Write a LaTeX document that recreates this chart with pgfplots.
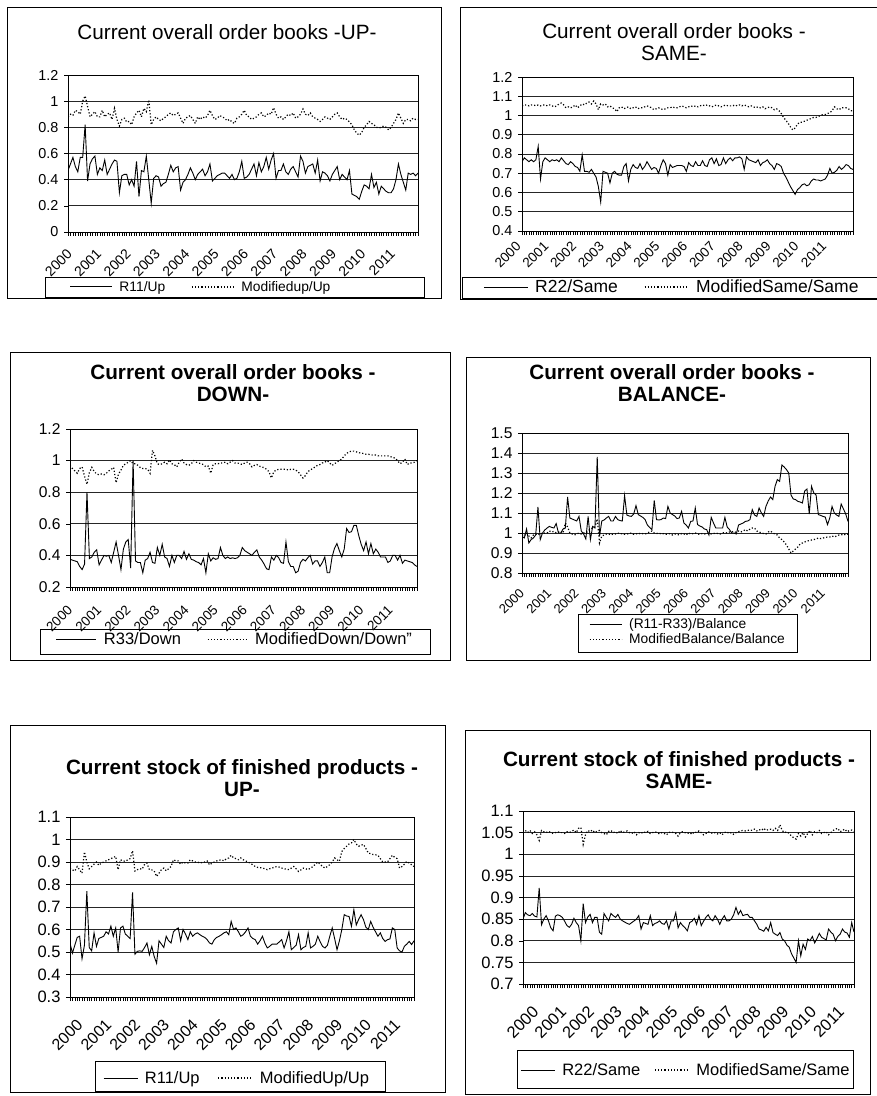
\documentclass[border=0pt]{standalone}
\usepackage{fontspec}
\setmainfont{Liberation Sans}
\usepackage{pgfplots}
\usepackage{pgfplotstable}
\pgfplotsset{compat=1.18}

\newcommand\ftitle{\fontsize{20.7bp}{22bp}\selectfont}
\newcommand\fticka{\fontsize{14.4bp}{16bp}\selectfont}
\newcommand\ftickb{\fontsize{15.6bp}{17bp}\selectfont}
\newcommand\ftickc{\fontsize{16.5bp}{18bp}\selectfont}
\newcommand\fleg{\fontsize{13.8bp}{16bp}\selectfont}
\newcommand\flegb{\fontsize{16.5bp}{18bp}\selectfont}
\newcommand\flegbb{\fontsize{17.5bp}{19bp}\selectfont}
\newcommand\flegc{\fontsize{16.5bp}{18bp}\selectfont}
\newcommand\fyr[1]{\fontsize{#1}{#1}\selectfont}

\pgfplotstableread[row sep=\\]{
m a b\\
0 0.47 0.88\\1 0.52 0.90\\2 0.57 0.89\\3 0.50 0.93\\4 0.46 0.92\\5 0.57 0.90\\6 0.57 1.00\\7 0.82 1.04\\8 0.39 0.96\\9 0.52 0.88\\
10 0.56 0.90\\11 0.58 0.92\\12 0.44 0.88\\13 0.49 0.88\\14 0.47 0.93\\15 0.55 0.88\\16 0.44 0.90\\17 0.48 0.91\\18 0.52 0.86\\19 0.55 0.945\\
20 0.54 0.86\\21 0.30 0.81\\22 0.43 0.86\\23 0.44 0.87\\24 0.44 0.84\\25 0.36 0.845\\26 0.40 0.82\\27 0.35 0.88\\28 0.54 0.91\\29 0.27 0.93\\
30 0.47 0.88\\31 0.46 0.945\\32 0.58 0.92\\33 0.40 1.01\\34 0.22 0.82\\35 0.41 0.86\\36 0.43 0.88\\37 0.42 0.86\\38 0.35 0.85\\39 0.37 0.87\\
40 0.38 0.88\\41 0.44 0.90\\42 0.51 0.91\\43 0.46 0.89\\44 0.49 0.90\\45 0.50 0.91\\46 0.32 0.87\\47 0.38 0.83\\48 0.40 0.87\\49 0.44 0.88\\
50 0.49 0.89\\51 0.45 0.86\\52 0.40 0.83\\53 0.44 0.88\\54 0.46 0.86\\55 0.48 0.88\\56 0.43 0.87\\57 0.46 0.89\\58 0.52 0.93\\59 0.39 0.89\\
60 0.41 0.86\\61 0.43 0.87\\62 0.44 0.89\\63 0.45 0.88\\64 0.45 0.87\\65 0.43 0.85\\66 0.41 0.86\\67 0.44 0.84\\68 0.40 0.83\\69 0.41 0.87\\
70 0.46 0.88\\71 0.54 0.90\\72 0.41 0.93\\73 0.42 0.89\\74 0.44 0.88\\75 0.48 0.86\\76 0.52 0.87\\77 0.43 0.88\\78 0.53 0.90\\79 0.46 0.91\\
80 0.50 0.88\\81 0.57 0.89\\82 0.48 0.91\\83 0.55 0.90\\84 0.60 0.95\\85 0.41 0.90\\86 0.47 0.87\\87 0.47 0.88\\88 0.52 0.86\\89 0.46 0.88\\
90 0.44 0.90\\91 0.48 0.89\\92 0.50 0.91\\93 0.46 0.87\\94 0.42 0.88\\95 0.58 0.90\\96 0.54 0.94\\97 0.45 0.90\\98 0.50 0.89\\99 0.51 0.91\\
100 0.52 0.88\\101 0.45 0.87\\102 0.55 0.86\\103 0.39 0.845\\104 0.46 0.86\\105 0.45 0.88\\106 0.43 0.87\\107 0.39 0.86\\108 0.44 0.88\\109 0.47 0.90\\
110 0.50 0.91\\111 0.40 0.88\\112 0.44 0.86\\113 0.42 0.87\\114 0.40 0.86\\115 0.47 0.84\\116 0.29 0.82\\117 0.28 0.78\\118 0.27 0.755\\119 0.25 0.74\\
120 0.31 0.76\\121 0.36 0.80\\122 0.35 0.82\\123 0.33 0.845\\124 0.44 0.83\\125 0.34 0.82\\126 0.38 0.80\\127 0.29 0.795\\128 0.35 0.80\\129 0.33 0.81\\
130 0.31 0.80\\131 0.30 0.78\\132 0.30 0.80\\133 0.33 0.83\\134 0.40 0.86\\135 0.52 0.91\\136 0.44 0.87\\137 0.38 0.83\\138 0.32 0.86\\139 0.45 0.86\\
140 0.44 0.85\\141 0.45 0.87\\142 0.43 0.86\\143 0.45 0.86\\
}\tA

\pgfplotstableread[row sep=\\]{
m a b\\
0 0.76 1.05\\1 0.78 1.055\\2 0.77 1.055\\3 0.76 1.05\\4 0.77 1.055\\5 0.76 1.055\\6 0.77 1.05\\7 0.84 1.055\\8 0.67 1.05\\9 0.76 1.055\\
10 0.78 1.055\\11 0.77 1.05\\12 0.76 1.055\\13 0.77 1.05\\14 0.765 1.045\\15 0.77 1.05\\16 0.76 1.06\\17 0.78 1.065\\18 0.765 1.055\\19 0.75 1.04\\
20 0.745 1.045\\21 0.76 1.04\\22 0.75 1.045\\23 0.735 1.055\\24 0.73 1.04\\25 0.71 1.05\\26 0.795 1.06\\27 0.71 1.055\\28 0.71 1.065\\29 0.705 1.07\\
30 0.72 1.06\\31 0.70 1.075\\32 0.68 1.06\\33 0.63 1.03\\34 0.55 1.06\\35 0.71 1.055\\36 0.705 1.06\\37 0.70 1.045\\38 0.65 1.05\\39 0.70 1.04\\
40 0.71 1.035\\41 0.695 1.02\\42 0.69 1.04\\43 0.69 1.045\\44 0.735 1.035\\45 0.75 1.04\\46 0.66 1.045\\47 0.72 1.035\\48 0.745 1.04\\49 0.73 1.045\\
50 0.725 1.035\\51 0.75 1.04\\52 0.72 1.04\\53 0.735 1.045\\54 0.76 1.05\\55 0.74 1.045\\56 0.72 1.04\\57 0.73 1.03\\58 0.725 1.035\\59 0.70 1.04\\
60 0.74 1.035\\61 0.77 1.03\\62 0.75 1.035\\63 0.69 1.04\\64 0.745 1.04\\65 0.73 1.045\\66 0.735 1.04\\67 0.74 1.04\\68 0.74 1.045\\69 0.74 1.05\\
70 0.735 1.045\\71 0.71 1.04\\72 0.755 1.045\\73 0.74 1.05\\74 0.735 1.045\\75 0.76 1.05\\76 0.74 1.045\\77 0.74 1.05\\78 0.765 1.055\\79 0.74 1.05\\
80 0.735 1.055\\81 0.77 1.05\\82 0.78 1.045\\83 0.75 1.05\\84 0.775 1.055\\85 0.74 1.05\\86 0.745 1.045\\87 0.78 1.05\\88 0.75 1.055\\89 0.77 1.05\\
90 0.78 1.05\\91 0.765 1.05\\92 0.78 1.055\\93 0.78 1.05\\94 0.785 1.055\\95 0.775 1.05\\96 0.72 1.055\\97 0.785 1.05\\98 0.77 1.045\\99 0.765 1.05\\
100 0.76 1.045\\101 0.755 1.04\\102 0.77 1.045\\103 0.74 1.04\\104 0.755 1.045\\105 0.76 1.035\\106 0.77 1.04\\107 0.75 1.045\\108 0.74 1.04\\109 0.72 1.03\\
110 0.75 1.035\\111 0.745 1.025\\112 0.735 1.01\\113 0.70 0.99\\114 0.68 0.975\\115 0.655 0.96\\116 0.63 0.94\\117 0.61 0.925\\118 0.59 0.935\\119 0.615 0.955\\
120 0.625 0.965\\121 0.64 0.965\\122 0.645 0.97\\123 0.635 0.975\\124 0.64 0.98\\125 0.66 0.985\\126 0.67 0.99\\127 0.665 0.99\\128 0.665 0.995\\129 0.66 1.0\\
130 0.665 1.005\\131 0.67 1.005\\132 0.69 1.01\\133 0.725 1.015\\134 0.70 1.025\\135 0.705 1.045\\136 0.715 1.035\\137 0.735 1.03\\138 0.72 1.04\\139 0.73 1.04\\
140 0.745 1.04\\141 0.74 1.035\\142 0.725 1.025\\143 0.72 1.025\\
}\tB

\pgfplotstableread[row sep=\\]{
m a b\\
0 0.376 0.97\\1 0.37 0.95\\2 0.365 0.935\\3 0.36 0.92\\4 0.33 0.95\\5 0.31 0.96\\6 0.345 0.90\\7 0.80 0.85\\8 0.38 0.925\\9 0.39 0.957\\
10 0.42 0.93\\11 0.435 0.915\\12 0.34 0.91\\13 0.37 0.915\\14 0.40 0.91\\15 0.395 0.92\\16 0.40 0.935\\17 0.355 0.945\\18 0.42 0.957\\19 0.485 0.86\\
20 0.40 0.915\\21 0.31 0.94\\22 0.44 0.97\\23 0.485 0.98\\24 0.50 0.99\\25 0.32 1.00\\26 1.00 0.98\\27 0.365 0.98\\28 0.355 0.97\\29 0.355 0.955\\
30 0.29 0.95\\31 0.37 0.95\\32 0.38 0.945\\33 0.42 0.92\\34 0.355 1.065\\35 0.35 1.03\\36 0.45 0.98\\37 0.40 0.975\\38 0.47 0.98\\39 0.39 0.99\\
40 0.38 0.98\\41 0.33 1.004\\42 0.40 0.98\\43 0.355 0.975\\44 0.40 0.96\\45 0.40 0.99\\46 0.38 1.01\\47 0.425 0.985\\48 0.375 0.975\\49 0.41 0.97\\
50 0.375 0.98\\51 0.37 1.00\\52 0.36 0.99\\53 0.355 0.985\\54 0.34 0.98\\55 0.38 0.975\\56 0.29 0.96\\57 0.41 0.965\\58 0.365 0.92\\59 0.385 0.975\\
60 0.375 0.98\\61 0.38 0.98\\62 0.45 0.985\\63 0.40 0.985\\64 0.38 0.99\\65 0.39 0.98\\66 0.38 0.99\\67 0.385 1.00\\68 0.38 0.985\\69 0.385 0.985\\
70 0.40 0.98\\71 0.45 0.975\\72 0.43 0.985\\73 0.42 0.99\\74 0.41 0.98\\75 0.40 0.96\\76 0.42 0.97\\77 0.435 0.975\\78 0.39 0.965\\79 0.37 0.96\\
80 0.345 0.955\\81 0.315 0.945\\82 0.31 0.93\\83 0.39 0.89\\84 0.37 0.93\\85 0.40 0.94\\86 0.385 0.945\\87 0.355 0.945\\88 0.35 0.945\\89 0.485 0.945\\
90 0.36 0.94\\91 0.33 0.945\\92 0.33 0.945\\93 0.29 0.94\\94 0.30 0.93\\95 0.355 0.91\\96 0.375 0.89\\97 0.365 0.905\\98 0.385 0.93\\99 0.40 0.94\\
100 0.345 0.95\\101 0.365 0.96\\102 0.365 0.97\\103 0.33 0.975\\104 0.355 0.985\\105 0.39 0.99\\106 0.29 1.00\\107 0.29 0.985\\108 0.39 0.97\\109 0.445 0.98\\
110 0.475 0.99\\111 0.43 1.00\\112 0.39 1.01\\113 0.44 1.03\\114 0.57 1.045\\115 0.545 1.055\\116 0.55 1.06\\117 0.59 1.06\\118 0.59 1.055\\119 0.525 1.05\\
120 0.47 1.047\\121 0.43 1.045\\122 0.485 1.04\\123 0.41 1.04\\124 0.475 1.035\\125 0.41 1.035\\126 0.44 1.035\\127 0.42 1.03\\128 0.39 1.03\\129 0.39 1.03\\
130 0.39 1.03\\131 0.355 1.03\\132 0.365 1.025\\133 0.40 1.02\\134 0.40 1.015\\135 0.37 1.00\\136 0.40 0.98\\137 0.35 0.99\\138 0.37 1.01\\139 0.365 0.975\\
140 0.36 0.985\\141 0.355 0.985\\142 0.34 0.99\\143 0.33 1.00\\
}\tC

\pgfplotstableread[row sep=\\]{
m a b\\
0 0.983 0.99\\1 0.975 0.985\\2 1.02 1.0\\3 0.95 0.985\\4 0.967 0.975\\5 0.975 0.99\\6 0.99 0.995\\7 1.13 0.99\\8 0.967 1.0\\9 1.0 0.995\\
10 1.015 1.0\\11 1.025 1.0\\12 1.033 1.01\\13 1.028 1.005\\14 1.025 1.008\\15 1.047 1.0\\16 1.0 1.005\\17 1.0 1.008\\18 1.02 1.0\\19 1.025 1.05\\
20 1.18 1.03\\21 1.075 1.0\\22 1.07 0.995\\23 1.065 0.99\\24 1.06 0.995\\25 1.083 1.0\\26 1.01 0.995\\27 0.995 1.0\\28 0.97 1.0\\29 1.083 1.01\\
30 0.967 1.02\\31 1.033 1.025\\32 1.025 1.03\\33 1.38 1.07\\34 0.983 0.95\\35 1.06 0.985\\36 1.065 0.99\\37 1.075 0.995\\38 1.083 0.995\\39 1.06 0.99\\
40 1.06 0.995\\41 1.083 0.995\\42 1.067 1.0\\43 1.062 0.995\\44 1.06 0.997\\45 1.187 0.993\\46 1.09 0.995\\47 1.085 0.997\\48 1.083 1.0\\49 1.095 0.993\\
50 1.137 0.995\\51 1.092 1.0\\52 1.085 0.995\\53 1.078 0.997\\54 1.067 0.995\\55 1.04 1.0\\56 1.028 1.005\\57 1.017 1.01\\58 1.163 1.0\\59 1.067 0.997\\
60 1.065 1.0\\61 1.067 0.995\\62 1.075 0.997\\63 1.072 0.993\\64 1.133 0.995\\65 1.10 0.997\\66 1.092 0.99\\67 1.085 0.995\\68 1.072 0.993\\69 1.075 0.99\\
70 1.108 0.997\\71 1.05 0.995\\72 1.04 0.99\\73 1.025 1.0\\74 1.058 0.995\\75 1.06 0.997\\76 1.125 1.0\\77 1.042 0.995\\78 1.035 0.993\\79 1.03 0.997\\
80 1.02 0.995\\81 1.017 0.997\\82 0.99 1.0\\83 1.078 0.995\\84 1.05 0.997\\85 1.025 1.0\\86 1.025 0.997\\87 1.025 0.995\\88 1.025 1.0\\89 1.078 1.003\\
90 1.03 1.0\\91 1.017 1.005\\92 1.0 1.008\\93 1.0 1.003\\94 0.995 1.005\\95 1.04 1.01\\96 1.045 1.005\\97 1.05 1.01\\98 1.058 1.017\\99 1.06 1.01\\
100 1.067 1.02\\101 1.117 1.025\\102 1.09 1.025\\103 1.083 1.01\\104 1.125 1.005\\105 1.10 1.0\\106 1.083 0.997\\107 1.133 0.995\\108 1.16 1.005\\109 1.18 1.01\\
110 1.167 1.0\\111 1.233 0.995\\112 1.267 0.99\\113 1.258 0.975\\114 1.34 0.967\\115 1.33 0.955\\116 1.317 0.94\\117 1.30 0.92\\118 1.19 0.90\\119 1.17 0.91\\
120 1.167 0.92\\121 1.158 0.93\\122 1.155 0.945\\123 1.15 0.95\\124 1.21 0.955\\125 1.22 0.96\\126 1.095 0.962\\127 1.233 0.965\\128 1.20 0.967\\129 1.19 0.97\\
130 1.092 0.975\\131 1.088 0.972\\132 1.083 0.975\\133 1.08 0.977\\134 1.042 0.98\\135 1.075 0.98\\136 1.133 0.985\\137 1.10 0.98\\138 1.09 0.985\\139 1.083 0.99\\
140 1.145 0.99\\141 1.12 0.995\\142 1.095 0.99\\143 1.058 0.995\\
}\tD

\pgfplotstableread[row sep=\\]{
m a b\\
0 0.54 0.873\\1 0.495 0.865\\2 0.53 0.86\\3 0.565 0.88\\4 0.57 0.865\\5 0.47 0.85\\6 0.53 0.945\\7 0.77 0.90\\8 0.52 0.87\\9 0.505 0.88\\
10 0.585 0.89\\11 0.525 0.90\\12 0.56 0.885\\13 0.565 0.895\\14 0.57 0.90\\15 0.59 0.905\\16 0.58 0.91\\17 0.615 0.915\\18 0.57 0.92\\19 0.607 0.925\\
20 0.50 0.866\\21 0.607 0.91\\22 0.615 0.905\\23 0.58 0.903\\24 0.57 0.91\\25 0.56 0.915\\26 0.765 0.95\\27 0.49 0.86\\28 0.503 0.866\\29 0.505 0.87\\
30 0.503 0.868\\31 0.52 0.89\\32 0.54 0.895\\33 0.488 0.866\\34 0.525 0.865\\35 0.48 0.86\\36 0.45 0.836\\37 0.55 0.85\\38 0.535 0.866\\39 0.52 0.873\\
40 0.57 0.861\\41 0.55 0.87\\42 0.54 0.88\\43 0.59 0.91\\44 0.60 0.905\\45 0.607 0.905\\46 0.55 0.89\\47 0.60 0.90\\48 0.58 0.895\\49 0.555 0.895\\
50 0.59 0.91\\51 0.57 0.905\\52 0.58 0.90\\53 0.585 0.90\\54 0.577 0.895\\55 0.57 0.898\\56 0.565 0.90\\57 0.555 0.905\\58 0.54 0.887\\59 0.535 0.895\\
60 0.555 0.90\\61 0.565 0.905\\62 0.57 0.908\\63 0.577 0.91\\64 0.585 0.905\\65 0.59 0.915\\66 0.577 0.918\\67 0.636 0.93\\68 0.60 0.918\\69 0.607 0.915\\
70 0.59 0.91\\71 0.57 0.918\\72 0.577 0.91\\73 0.59 0.905\\74 0.607 0.90\\75 0.57 0.895\\76 0.56 0.887\\77 0.555 0.88\\78 0.535 0.876\\79 0.55 0.875\\
80 0.57 0.873\\81 0.54 0.87\\82 0.518 0.866\\83 0.525 0.87\\84 0.535 0.873\\85 0.535 0.877\\86 0.535 0.88\\87 0.545 0.877\\88 0.555 0.873\\89 0.518 0.87\\
90 0.55 0.868\\91 0.59 0.866\\92 0.51 0.873\\93 0.52 0.88\\94 0.53 0.87\\95 0.577 0.858\\96 0.51 0.865\\97 0.52 0.873\\98 0.525 0.87\\99 0.585 0.866\\
100 0.518 0.873\\101 0.525 0.88\\102 0.535 0.89\\103 0.57 0.90\\104 0.545 0.89\\105 0.525 0.88\\106 0.518 0.873\\107 0.53 0.88\\108 0.57 0.888\\109 0.607 0.90\\
110 0.56 0.918\\111 0.51 0.91\\112 0.55 0.903\\113 0.60 0.947\\114 0.666 0.96\\115 0.66 0.97\\116 0.658 0.98\\117 0.614 0.985\\118 0.688 1.0\\119 0.62 0.98\\
120 0.645 0.97\\121 0.666 0.975\\122 0.644 0.978\\123 0.61 0.96\\124 0.60 0.94\\125 0.636 0.937\\126 0.61 0.933\\127 0.59 0.932\\128 0.57 0.93\\129 0.585 0.915\\
130 0.56 0.90\\131 0.547 0.90\\132 0.555 0.90\\133 0.558 0.915\\134 0.607 0.93\\135 0.60 0.92\\136 0.518 0.915\\137 0.505 0.873\\138 0.50 0.88\\139 0.525 0.89\\
140 0.535 0.903\\141 0.547 0.895\\142 0.533 0.888\\143 0.55 0.88\\
}\tE

\pgfplotstableread[row sep=\\]{
m a b\\
0 0.85 1.05\\1 0.865 1.055\\2 0.86 1.05\\3 0.858 1.055\\4 0.863 1.048\\5 0.857 1.052\\6 0.855 1.045\\7 0.922 1.032\\8 0.837 1.055\\9 0.85 1.052\\
10 0.858 1.05\\11 0.846 1.053\\12 0.83 1.05\\13 0.823 1.048\\14 0.857 1.05\\15 0.86 1.052\\16 0.858 1.05\\17 0.854 1.05\\18 0.845 1.048\\19 0.835 1.052\\
20 0.831 1.05\\21 0.838 1.053\\22 0.852 1.056\\23 0.842 1.05\\24 0.835 1.06\\25 0.80 1.062\\26 0.886 1.023\\27 0.842 1.045\\28 0.855 1.055\\29 0.861 1.052\\
30 0.842 1.056\\31 0.854 1.05\\32 0.854 1.053\\33 0.82 1.055\\34 0.815 1.05\\35 0.863 1.048\\36 0.854 1.045\\37 0.846 1.053\\38 0.863 1.055\\39 0.858 1.05\\
40 0.854 1.052\\41 0.861 1.048\\42 0.85 1.055\\43 0.846 1.05\\44 0.843 1.052\\45 0.84 1.054\\46 0.838 1.05\\47 0.842 1.048\\48 0.846 1.052\\49 0.85 1.045\\
50 0.858 1.05\\51 0.827 1.048\\52 0.842 1.052\\53 0.84 1.05\\54 0.838 1.053\\55 0.858 1.048\\56 0.835 1.05\\57 0.84 1.052\\58 0.842 1.05\\59 0.846 1.047\\
60 0.84 1.05\\61 0.838 1.048\\62 0.846 1.045\\63 0.827 1.05\\64 0.846 1.052\\65 0.846 1.05\\66 0.865 1.048\\67 0.83 1.042\\68 0.842 1.05\\69 0.835 1.052\\
70 0.83 1.05\\71 0.823 1.048\\72 0.842 1.05\\73 0.845 1.046\\74 0.852 1.052\\75 0.838 1.05\\76 0.858 1.054\\77 0.835 1.05\\78 0.845 1.045\\79 0.854 1.048\\
80 0.86 1.052\\81 0.85 1.05\\82 0.846 1.048\\83 0.858 1.05\\84 0.85 1.047\\85 0.838 1.05\\86 0.85 1.045\\87 0.858 1.05\\88 0.846 1.052\\89 0.846 1.048\\
90 0.85 1.05\\91 0.86 1.046\\92 0.877 1.05\\93 0.861 1.052\\94 0.87 1.054\\95 0.858 1.055\\96 0.86 1.054\\97 0.861 1.055\\98 0.854 1.056\\99 0.854 1.055\\
100 0.846 1.058\\101 0.838 1.054\\102 0.827 1.057\\103 0.825 1.055\\104 0.822 1.06\\105 0.831 1.055\\106 0.823 1.057\\107 0.842 1.058\\108 0.819 1.055\\109 0.815 1.06\\
110 0.812 1.055\\111 0.819 1.068\\112 0.804 1.055\\113 0.80 1.05\\114 0.79 1.052\\115 0.785 1.048\\116 0.77 1.042\\117 0.76 1.038\\118 0.75 1.035\\119 0.80 1.048\\
120 0.765 1.042\\121 0.792 1.05\\122 0.78 1.04\\123 0.804 1.048\\124 0.80 1.055\\125 0.81 1.045\\126 0.795 1.052\\127 0.805 1.05\\128 0.817 1.055\\129 0.808 1.048\\
130 0.805 1.05\\131 0.802 1.052\\132 0.827 1.045\\133 0.82 1.05\\134 0.815 1.055\\135 0.80 1.058\\136 0.81 1.06\\137 0.815 1.052\\138 0.827 1.055\\139 0.82 1.058\\
140 0.818 1.052\\141 0.808 1.055\\142 0.842 1.056\\143 0.82 1.053\\
}\tF

\pgfplotsset{
  panel/.style={
    scale only axis,
    xmin=0, xmax=143,
    xtick={0,12,24,36,48,60,72,84,96,108,120,132},
    xticklabels={2000,2001,2002,2003,2004,2005,2006,2007,2008,2009,2010,2011},
    minor xtick={0,1,...,143},
    xtick pos=left, ytick pos=left,
    tick align=outside,
    major tick length=4bp, minor tick length=4bp,
    tick style={black, line width=0.5bp},
    axis line style={black, line width=0.8bp},
    ymajorgrids,
    grid style={black!85, line width=0.7bp},
    /pgf/number format/assume math mode=true,
    yticklabel style={/pgf/number format/fixed, /pgf/number format/precision=2, xshift=-2bp},
    xticklabel style={rotate=45, anchor=north east, inner sep=1bp},
    legend columns=2,
    legend style={draw=none, fill=none, anchor=center, inner sep=1bp,
      /tikz/every odd column/.append style={column sep=5bp},
      /tikz/every even column/.append style={column sep=24bp}},
    legend image code/.code={\draw[##1] (0bp,0bp) -- (38bp,0bp);},
  },
  ser1/.style={black, line width=0.9bp},
  ser2/.style={black, line width=1.2bp, dash pattern=on 1.2bp off 2bp},
}

\begin{document}
\begin{tikzpicture}
\useasboundingbox (0,0) rectangle (877bp,1096bp);

% Panel 1
\begin{axis}[panel, at={(68bp,864bp)}, anchor=south west, width=350bp, height=157bp,
  ymin=0, ymax=1.2, ytick={0,0.2,0.4,0.6,0.8,1,1.2},
  tick label style={font=\fticka},
  xticklabel style={font=\fyr{14bp}, xshift=-9bp, yshift=-6bp},
  legend style={at={(0.38,-0.35)}, font=\fleg},
  legend image code/.code={\draw[#1] (0bp,0bp) -- (42bp,0bp);}]
\addplot[ser1] table[x=m,y=a]{\tA};
\addlegendentry{R11/Up}
\addplot[ser2] table[x=m,y=b]{\tA};
\addlegendentry{Modifiedup/Up}
\end{axis}

% Panel 2
\begin{axis}[panel, at={(522bp,865bp)}, anchor=south west, width=331bp, height=154bp,
  ymin=0.4, ymax=1.2, ytick={0.4,0.5,0.6,0.7,0.8,0.9,1,1.1,1.2},
  tick label style={font=\fticka},
  xticklabel style={font=\fyr{13.5bp}, xshift=-8bp, yshift=2bp},
  legend style={at={(0.453,-0.364)}, font=\flegbb},
  legend image code/.code={\draw[#1] (0bp,0bp) -- (44bp,0bp);}]
\addplot[ser1] table[x=m,y=a]{\tB};
\addlegendentry{R22/Same}
\addplot[ser2] table[x=m,y=b]{\tB};
\addlegendentry{ModifiedSame/Same}
\end{axis}

% Panel 3
\begin{axis}[panel, at={(70bp,509bp)}, anchor=south west, width=347bp, height=158bp,
  ymin=0.2, ymax=1.2, ytick={0.2,0.4,0.6,0.8,1,1.2},
  tick label style={font=\ftickb},
  xticklabel style={font=\fyr{13.5bp}, xshift=-11bp, yshift=-6bp},
  legend style={at={(0.4755,-0.33)}, font=\flegb},
  legend image code/.code={\draw[#1] (0bp,0bp) -- (40bp,0bp);}]
\addplot[ser1] table[x=m,y=a]{\tC};
\addlegendentry{R33/Down}
\addplot[ser2] table[x=m,y=b]{\tC};
\addlegendentry{ModifiedDown/Down"}
\end{axis}

% Panel 4
\begin{axis}[panel, at={(522bp,523bp)}, anchor=south west, width=326bp, height=140bp,
  ymin=0.8, ymax=1.5, ytick={0.8,0.9,1,1.1,1.2,1.3,1.4,1.5},
  tick label style={font=\ftickb},
  xticklabel style={font=\fyr{13bp}, xshift=-9bp, yshift=-4bp},
  legend columns=1,
  legend style={at={(0.509,-0.42)}, font=\fleg, legend cell align=left, inner sep=1bp},
  legend image code/.code={\draw[#1] (0bp,0bp) -- (32bp,0bp);}]
\addplot[ser1] table[x=m,y=a]{\tD};
\addlegendentry{(R11-R33)/Balance}
\addplot[ser2] table[x=m,y=b]{\tD};
\addlegendentry{ModifiedBalance/Balance}
\end{axis}

% Panel 5
\begin{axis}[panel, at={(70bp,99bp)}, anchor=south west, width=344bp, height=180bp,
  ymin=0.3, ymax=1.1, ytick={0.3,0.4,0.5,0.6,0.7,0.8,0.9,1,1.1},
  tick label style={font=\ftickc},
  xticklabel style={font=\fyr{16bp}, xshift=-7bp, yshift=-15bp},
  legend style={at={(0.4855,-0.45)}, font=\flegc, /tikz/every even column/.append style={column sep=16bp}},
  legend image code/.code={\draw[#1] (0bp,0bp) -- (34bp,0bp);}]
\addplot[ser1] table[x=m,y=a]{\tE};
\addlegendentry{R11/Up}
\addplot[ser2] table[x=m,y=b]{\tE};
\addlegendentry{ModifiedUp/Up}
\end{axis}

% Panel 6
\begin{axis}[panel, at={(523bp,112bp)}, anchor=south west, width=331bp, height=173bp,
  ymin=0.7, ymax=1.1, ytick={0.7,0.75,0.8,0.85,0.9,0.95,1,1.05,1.1},
  tick label style={font=\ftickc},
  xticklabel style={font=\fyr{16.5bp}, xshift=-5bp, yshift=-17bp},
  legend style={at={(0.4924,-0.497)}, font=\flegc, /tikz/every even column/.append style={column sep=12bp}},
  legend image code/.code={\draw[#1] (0bp,0bp) -- (34bp,0bp);}]
\addplot[ser1] table[x=m,y=a]{\tF};
\addlegendentry{R22/Same}
\addplot[ser2] table[x=m,y=b]{\tF};
\addlegendentry{ModifiedSame/Same}
\end{axis}

% Titles
\node[font=\ftitle] at (227bp,1064bp) {Current overall order books -UP-};
\node[font=\ftitle, align=center] at (674bp,1053.5bp) {Current overall order books -\\SAME-};
\node[font=\ftitle\bfseries, align=center] at (233bp,712.5bp) {Current overall order books -\\DOWN-};
\node[font=\ftitle\bfseries, align=center] at (672bp,712.5bp) {Current overall order books -\\BALANCE-};
\node[font=\ftitle\bfseries, align=center] at (242bp,317.5bp) {Current stock of finished products -\\UP-};
\node[font=\ftitle\bfseries, align=center] at (679bp,326bp) {Current stock of finished products -\\SAME-};

% Frames
\begin{scope}[line width=0.8bp]
\draw (7bp,798bp) rectangle (441bp,1089bp);
\draw (460bp,797bp) rectangle (885bp,1089bp);
\draw (10bp,436bp) rectangle (450bp,744bp);
\draw (466bp,436bp) rectangle (870bp,739bp);
\draw (10bp,4bp) rectangle (445bp,371bp);
\draw (465bp,2bp) rectangle (870bp,366bp);
% legend boxes
\draw (45bp,799bp) rectangle (424bp,819bp);
\draw (462bp,798bp) rectangle (885bp,819bp);
\draw (40bp,442bp) rectangle (430bp,467bp);
\draw (578bp,444bp) rectangle (797bp,482bp);
\draw (95bp,5bp) rectangle (385bp,35bp);
\draw (517bp,8bp) rectangle (853bp,46bp);
\end{scope}
\end{tikzpicture}
\end{document}
